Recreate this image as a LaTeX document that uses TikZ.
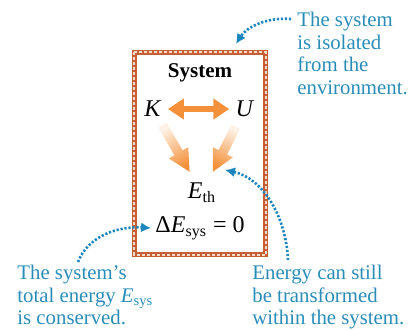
\documentclass[tikz,border=0pt]{standalone}
\usepackage{fontspec}
\setmainfont{Liberation Serif}
\usetikzlibrary{arrows.meta,calc}
\definecolor{SysTeal}{HTML}{2A8DB8}
\definecolor{SysDot}{HTML}{1C86BE}
\definecolor{SysOrange}{HTML}{F4913A}
\definecolor{SysBrown}{HTML}{C65F36}
\definecolor{SysHatch}{HTML}{F6DCCB}
\tikzset{
  capt/.style={anchor=north west,inner sep=0pt,align=left,text=SysTeal,font=\fontsize{10.4}{11.2}\selectfont},
  qty/.style={inner sep=1pt,font=\fontsize{12}{14}\selectfont},
  dotarrow/.style={SysDot,line width=1.3pt,dash pattern=on 1.1pt off 0.9pt,-{Latex[length=5pt,width=5pt]}},
  flowshade/.style={top color=SysOrange!12,middle color=SysOrange,bottom color=SysOrange,draw=none},
}
\begin{document}
\begin{tikzpicture}[x=0.5pt,y=-0.5pt]
\path[use as bounding box] (0,0) rectangle (409,329);
% isolated system frame
\draw[SysBrown,line width=2.4pt] (134.3,52.3) rectangle (265.7,254.7);
\draw[SysHatch,line width=1.1pt,dash pattern=on 1.5pt off 1pt] (134.3,52.3) rectangle (265.7,254.7);
% energies
\node[font=\bfseries\fontsize{10.5}{12}\selectfont] (title) at (200,73) {System};
\node[qty] (K) at (153,109) {\textit{K}};
\node[qty] (U) at (245,109) {\textit{U}};
\node[qty] (Eth) at (202,193) {\textit{E}\textsubscript{th}};
\node[qty] (dE) at (200,228) {Δ\textit{E}\textsubscript{sys} = 0};
\draw[SysOrange,line width=3.4pt,{Triangle[length=8pt,width=10pt]}-{Triangle[length=8pt,width=10pt]},shorten <=2pt,shorten >=2pt] (K) -- (U);
% K -> E_th
\coordinate (ka) at ($(K.center)!9.4pt!(Eth.center)$);
\coordinate (kt) at ($(Eth.center)!12.3pt!(K.center)$);
\coordinate (kb) at ($(kt)!11pt!(ka)$);
\shade[flowshade,shading angle=30] ($(ka)!2.4pt!90:(kt)$) -- ($(kb)!2.4pt!-90:(ka)$) -- ($(kb)!5.6pt!-90:(ka)$) -- (kt)
  -- ($(kb)!5.6pt!90:(ka)$) -- ($(kb)!2.4pt!90:(ka)$) -- ($(ka)!2.4pt!-90:(kt)$) -- cycle;
% U -> E_th
\coordinate (ua) at ($(U.center)!10pt!(Eth.center)$);
\coordinate (ut) at ($(Eth.center)!11.9pt!(U.center)$);
\coordinate (ub) at ($(ut)!11pt!(ua)$);
\shade[flowshade,shading angle=-27] ($(ua)!2.4pt!90:(ut)$) -- ($(ub)!2.4pt!-90:(ua)$) -- ($(ub)!5.6pt!-90:(ua)$) -- (ut)
  -- ($(ub)!5.6pt!90:(ua)$) -- ($(ub)!2.4pt!90:(ua)$) -- ($(ua)!2.4pt!-90:(ut)$) -- cycle;
% captions
\node[capt] (iso) at (297,12) {The system\\is isolated\\from the\\environment.};
\node[capt] (consv) at (17,265) {The system’s\\total energy \textit{E}\textsubscript{sys}\\is conserved.};
\node[capt] (trf) at (252,265) {Energy can still\\be transformed\\within the system.};
% pointers
\coordinate (isoS) at (291,19);
\coordinate (isoE) at (236,44);
\coordinate (consS) at (78,262);
\coordinate (trfS) at (288,260);
\coordinate (trfE) at (225,170);
\draw[dotarrow] (isoS) .. controls (265,17) and (246,28) .. (isoE);
\draw[dotarrow] (consS) .. controls (88,236) and (118,226) .. ([xshift=-1pt]dE.west);
\draw[dotarrow] (trfS) .. controls (286,215) and (262,178) .. (trfE);
\end{tikzpicture}
\end{document}
